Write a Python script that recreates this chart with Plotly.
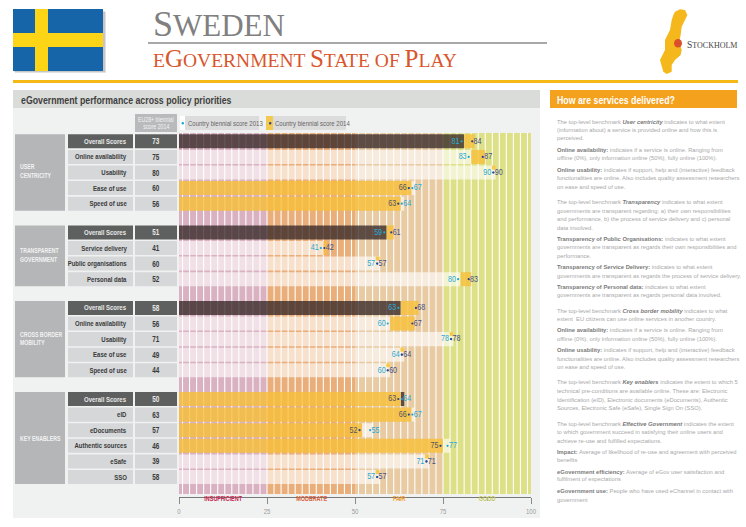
import plotly.graph_objects as go

W, H = 746, 527
NARROW = "Arial Narrow, Liberation Sans, Arial"
NOLINE = dict(width=0)

groups = [["USER", "CENTRICITY"], ["TRANSPARENT", "GOVERNMENT"], ["CROSS BORDER", "MOBILITY"], ["KEY ENABLERS"]]
group_label_px = [[166.7, 175.5], [250.5, 259.0], [334.3, 342.3], [438.3]]
group_rows = [
    ["Overall Scores", "Online availability", "Usability", "Ease of use", "Speed of use"],
    ["Overall Scores", "Service delivery", "Public organisations", "Personal data"],
    ["Overall Scores", "Online availability", "Usability", "Ease of use", "Speed of use"],
    ["Overall Scores", "eID", "eDocuments", "Authentic sources", "eSafe", "SSO"],
]
eu_scores = [[73, 75, 80, 60, 56], [51, 41, 60, 52], [58, 56, 71, 49, 44], [50, 63, 57, 46, 39, 58]]
score_2013 = [[81, 83, 90, 67, 64], [59, 41, 57, 80], [63, 60, 78, 64, 60], [64, 67, 55, 77, 71, 57]]
score_2014 = [[84, 87, 90, 66, 63], [61, 42, 57, 83], [68, 67, 78, 64, 60], [63, 66, 52, 75, 71, 57]]

band_edges = [0, 25, 50, 75, 100]
band_colors = ["#d9b1c0", "#e9ae79", "#e8caa3", "#dde086"]
band_names = ["INSUFFICIENT", "MODERATE", "FAIR", "GOOD"]
band_text = ["#c8224f", "#d9603a", "#f0a030", "#c5c95a"]
axis_ticks = [0, 25, 50, 75, 100]
minor_ticks = [12.5, 37.5, 62.5, 87.5]

side_text = [
    (121.7, "The top-level benchmark <b><i>User centricity</i></b> indicates to what extent"),
    (129.7, "(information about) a service is provided online and how this is"),
    (138.3, "perceived."),
    (149.7, "<b>Online availability:</b> indicates if a service is online. Ranging from"),
    (158.0, "offline (0%), only information online (50%), fully online (100%)."),
    (169.7, "<b>Online usability:</b> indicates if support, help and (interactive) feedback"),
    (178.0, "functionalities are online. Also includes quality assessment researchers"),
    (187.0, "on ease and speed of use."),
    (201.7, "The top-level benchmark <b><i>Transparency</i></b> indicates to what extent"),
    (210.7, "governments are transparent regarding: a) their own responsibilities"),
    (219.0, "and performance, b) the process of service delivery and c) personal"),
    (227.7, "data involved."),
    (238.7, "<b>Transparency of Public Organisations:</b> indicates to what extent"),
    (247.0, "governments are transparent as regards their own responsibilities and"),
    (256.0, "performance."),
    (266.7, "<b>Transparency of Service Delivery:</b> indicates to what extent"),
    (275.7, "governments are transparent as regards the process of service delivery."),
    (286.7, "<b>Transparency of Personal data:</b> indicates to what extent"),
    (295.0, "governments are transparent as regards personal data involved."),
    (310.7, "The top-level benchmark <b><i>Cross border mobility</i></b> indicates to what"),
    (319.0, "extent  EU citizens can use online services in another country."),
    (329.7, "<b>Online availability:</b> indicates if a service is online. Ranging from"),
    (338.7, "offline (0%), only information online (50%), fully online (100%)."),
    (349.7, "<b>Online usability:</b> indicates if support, help and (interactive) feedback"),
    (358.7, "functionalities are online. Also includes quality assessment researchers"),
    (367.0, "on ease and speed of use."),
    (382.3, "The top-level benchmark <b><i>Key enablers</i></b> indicates the extent to which 5"),
    (390.7, "technical pre-conditions are available online. These are: Electronic"),
    (399.7, "Identification (eID), Electronic documents (eDocuments), Authentic"),
    (407.7, "Sources, Electronic Safe (eSafe), Single Sign On (SSO)."),
    (423.7, "The top-level benchmark <b><i>Effective Government</i></b> indicates the extent"),
    (432.0, "to which government succeed in satisfying their online users and"),
    (440.7, "achieve re-use and fulfilled expectations."),
    (451.7, "<b>Impact:</b> Average of likelihood of re-use and agreement with perceived"),
    (460.0, "benefits"),
    (471.7, "<b>eGovernment efficiency:</b> Average of eGov user satisfaction and"),
    (479.3, "fulfilment of expectations"),
    (490.7, "<b>eGovernment use:</b> People who have used eChannel in contact with"),
    (499.7, "government"),
]

# row layout: one unit on the y axis is one row step, groups separated by a gap
ROW_PX, FIRST_PX, GAP = 15.6, 141.3, 0.84
rows = []
pos = 0.0
for g, names in enumerate(group_rows):
    for i, name in enumerate(names):
        rows.append(dict(g=g, i=i, name=name, y=pos, eu=eu_scores[g][i],
                         a=score_2013[g][i], b=score_2014[g][i]))
        pos += 1
    pos += GAP
ys = [r["y"] for r in rows]
overall = [r["i"] == 0 for r in rows]


def px(x):
    return x / W


def py(y):
    return 1 - y / H


def box(x0, y0, x1, y1, color, layer="below"):
    return dict(type="rect", xref="paper", yref="paper", x0=px(x0), x1=px(x1), y0=py(y0), y1=py(y1),
                fillcolor=color, line=NOLINE, layer=layer)


def label(x, y, text, size, color, anchor="left", font="Liberation Sans"):
    return dict(xref="paper", yref="paper", x=px(x), y=py(y), text=text, showarrow=False, xanchor=anchor,
                yanchor="middle", align=anchor,
                font=dict(size=size, color=color, family=font))


shapes, notes = [], []

# page furniture
shapes += [
    box(13, 90, 540, 518, "#f0f2f1"),
    box(13, 90, 540, 108, "#dadcd9"),
    box(550, 90, 737, 108, "#f4a11d"),
    box(13, 80, 738, 83, "#f5b915"),
    box(148, 42, 547, 44, "#a8a8aa"),
    # flag
    box(15, 12, 106, 73, "rgba(120,120,120,0.22)"),
    box(14, 11, 105, 72, "rgba(120,120,120,0.25)"),
    box(13, 9, 103, 71, "#1565a8"),
    box(35, 9, 48, 71, "#fdd516"),
    box(13, 33, 103, 47, "#fdd516"),
]

# map outline, in pixels of the page
outline = [(75, 35), (90, 28), (105, 30), (112, 45), (105, 60), (95, 80), (92, 105), (88, 125), (95, 150), (92, 165),
           (75, 180), (65, 195), (65, 215), (50, 222), (40, 215), (30, 180), (45, 150), (45, 120), (60, 90), (65, 60),
           (70, 45)]
path = "M" + " L".join(f"{px(650 + x / 3):.4f},{py(y / 3):.4f}" for x, y in outline) + " Z"
shapes.append(dict(type="path", xref="paper", yref="paper", path=path, fillcolor="#f5b81c", line=NOLINE))
shapes.append(dict(type="circle", xref="paper", yref="paper", x0=px(674), x1=px(682), y0=py(39), y1=py(47.5),
                   fillcolor="#d9502a", line=NOLINE))

# legend and header boxes
shapes += [
    box(135, 114, 177, 132, "#b8babb"),
    box(180, 116, 185, 130, "#ffffff"),
    box(185, 116, 259, 130, "#dcdcdc"),
    box(266, 116, 273, 130, "#f3c94f"),
    box(273, 116, 346, 130, "#dcdcdc"),
    dict(type="circle", xref="paper", yref="paper", x0=px(181.6), x1=px(184), y0=py(122), y1=py(124.4),
         fillcolor="#1aa7d8", line=NOLINE),
    dict(type="circle", xref="paper", yref="paper", x0=px(269), x1=px(271.4), y0=py(122), y1=py(124.4),
         fillcolor="#2a3f8f", line=NOLINE),
]

# coloured bands and their thin white separators, below the bars
for k, c in enumerate(band_colors):
    shapes.append(dict(type="rect", xref="x", yref="paper", x0=band_edges[k], x1=band_edges[k + 1],
                       y0=py(494), y1=py(133), fillcolor=c, line=NOLINE, layer="below"))
for v in range(1, 100, 2):
    shapes.append(dict(type="line", xref="x", yref="paper", x0=v, x1=v, y0=py(494), y1=py(133),
                       line=dict(color="#ffffff", width=1.1), layer="below"))

# left table
for g, lines in enumerate(groups):
    grp = [r for r in rows if r["g"] == g]
    shapes.append(dict(type="rect", xref="paper", yref="y", x0=px(15), x1=px(65), y0=grp[0]["y"] - 0.45,
                       y1=grp[-1]["y"] + 0.45, fillcolor="#b5b6b8", line=NOLINE, layer="below"))
    for line, y in zip(lines, group_label_px[g]):
        notes.append(label(18, y, f"<b>{line}</b>", 6.9, "#f2f2f2", font=NARROW))
for r, is_o in zip(rows, overall):
    fill = "#5e605f" if is_o else "#d5d7d9"
    ink = "#e8e8e8" if is_o else "#3a3a3a"
    for x0, x1 in [(68, 133), (135, 177)]:
        shapes.append(dict(type="rect", xref="paper", yref="y", x0=px(x0), x1=px(x1), y0=r["y"] - 0.45,
                           y1=r["y"] + 0.45, fillcolor=fill, line=NOLINE, layer="below"))
    notes.append(dict(xref="paper", yref="y", x=px(129), y=r["y"], text=f"<b>{r['name']}</b>", showarrow=False,
                      xanchor="right", font=dict(size=8, color=ink, family=NARROW)))
    notes.append(dict(xref="paper", yref="y", x=px(156), y=r["y"], text=f"<b>{r['eu']}</b>", showarrow=False,
                      xanchor="center", font=dict(size=8.5, color=ink, family=NARROW)))

# bars
BAR_W = 0.9
pale = "rgba(255,255,255,0.62)"
dark = "rgba(50,35,35,0.76)"
yellow = "rgba(246,192,58,0.82)"
base_color = [dark if o else pale for o in overall]

base_start = [0 if r["b"] >= r["a"] else r["b"] for r in rows]
base_len = [r["a"] - s for r, s in zip(rows, base_start)]
yel_start = [r["a"] if r["b"] >= r["a"] else 0 for r in rows]
yel_len = [r["b"] - s for r, s in zip(rows, yel_start)]

fig = go.Figure()
fig.add_bar(y=ys, x=base_len, base=base_start, orientation="h", width=BAR_W,
            marker=dict(color=base_color, line=NOLINE), hoverinfo="skip")
fig.add_bar(y=ys, x=yel_len, base=yel_start, orientation="h", width=BAR_W,
            marker=dict(color=yellow, line=NOLINE), hoverinfo="skip")
# tied rows carry a little tab at the top of the bar end
ties = [r for r in rows if r["a"] == r["b"]]
fig.add_bar(y=[r["y"] - 0.32 for r in ties], x=[1.1] * len(ties), base=[r["a"] - 1.1 for r in ties], orientation="h",
            width=0.26, marker=dict(color="#f5c94a", line=NOLINE), hoverinfo="skip")

# dots and value labels
a_left = [r["a"] <= r["b"] for r in rows]
CYAN, NAVY, GREY = "#27a9d6", "#465184", "#55555f"
fig.add_scatter(x=[r["a"] - 0.7 for r in rows], y=ys, mode="markers",
                marker=dict(color="#1aa7d8", size=2.2), hoverinfo="skip")
fig.add_scatter(x=[r["b"] - 0.7 for r in rows], y=ys, mode="markers",
                marker=dict(color="#2a3f8f", size=2.2), hoverinfo="skip")
fig.add_scatter(x=[r["a"] - 1.3 if l else r["a"] - 0.3 for r, l in zip(rows, a_left)], y=ys, mode="text",
                text=[str(r["a"]) for r in rows],
                textposition=["middle left" if l else "middle right" for l in a_left],
                textfont=dict(size=9.5, color=CYAN, family=NARROW), hoverinfo="skip")
fig.add_scatter(x=[r["b"] - 0.3 if l else r["b"] - 1.3 for r, l in zip(rows, a_left)], y=ys, mode="text",
                text=[str(r["b"]) for r in rows],
                textposition=["middle right" if l else "middle left" for l in a_left],
                textfont=dict(size=9.5, color=[NAVY if l else GREY for l in a_left], family=NARROW), hoverinfo="skip")

# text
notes += [
    label(19, 99.5, "<b>eGovernment performance across policy priorities</b>", 11.7, "#3f3f3f", font=NARROW),
    label(555, 99.5, "<b>How are services delivered?</b>", 11.7, "#ffffff", font=NARROW),
    label(156, 119.7, "EU28+ biennial", 7, "#f4f4f4", "center", NARROW),
    label(156, 127, "score 2014", 7, "#f4f4f4", "center", NARROW),
    label(186, 123, "Country biennial score 2013", 8, "#666666", font=NARROW),
    label(273, 123, "Country biennial score 2014", 8, "#666666", font=NARROW),
]
for k, name in enumerate(band_names):
    notes.append(dict(xref="x", yref="paper", x=(band_edges[k] + band_edges[k + 1]) / 2, y=py(504.5),
                      text=f"<b>{name}</b>", showarrow=False,
                      font=dict(size=7.3, color=band_text[k], family=NARROW)))
for y, t in side_text:
    t = t.replace("<b>", '<span style="color:#7a7a7a"><b>').replace("</b>", "</b></span>")
    notes.append(label(555, y, t, 5.8, "#a8a8a8"))


def caps(size, text):
    return f'<span style="font-size:{size}px">{text}</span>'


notes += [
    label(151, 24, caps(36, "S") + caps(31, "WEDEN"), 31, "#808080", font="Liberation Serif"),
    label(151, 59, caps(19.5, "E") + caps(25, "G") + caps(19.5, "OVERNMENT ") + caps(25, "S") + caps(19.5, "TATE OF ")
          + caps(25, "P") + caps(19.5, "LAY"), 19.5, "#d9552b", font="Liberation Serif"),
    label(685, 45, caps(9.5, "S") + caps(8, "TOCKHOLM"), 8, "#444444", font="Liberation Serif"),
]

fig.update_layout(
    width=W, height=H, autosize=False, margin=dict(l=0, r=0, t=0, b=0, pad=0, autoexpand=False), showlegend=False,
    paper_bgcolor="#ffffff", plot_bgcolor="rgba(0,0,0,0)", barmode="overlay",
    shapes=shapes, annotations=notes,
    xaxis=dict(domain=[px(179), px(531)], range=[0, 100], tickvals=axis_ticks, ticks="outside", ticklen=6,
               tickcolor="#8a8a8a", tickwidth=1, showline=True, linecolor="#777777", linewidth=1, showgrid=False,
               zeroline=False, anchor="free", position=py(497), tickfont=dict(size=8, color="#9a9a9a", family=NARROW),
               minor=dict(tickvals=minor_ticks, ticks="outside", ticklen=3, tickcolor="#b0b0b0")),
    yaxis=dict(domain=[py(494), py(133)], range=[(494 - FIRST_PX) / ROW_PX, (133 - FIRST_PX) / ROW_PX], visible=False),
)
# the reference uses a condensed face: squeeze those real text runs horizontally, keeping each anchor in place
squeeze = """
document.body.style.margin = '0';
var gd = document.getElementById('{plot_id}');
document.querySelectorAll('svg text').forEach(function (el) {
  if ((el.style.fontFamily || '').indexOf('Narrow') < 0) return;
  var n = el.getComputedTextLength();
  if (n <= 0) return;
  var k = 0.75, holder = el.closest('.annotation');
  if (holder) {
    var a = gd.layout.annotations[+holder.getAttribute('data-index')];
    if (a.xanchor === 'right' && a.align !== 'right') {
      el.setAttribute('x', parseFloat(el.getAttribute('x')) + n * (1 - k) / 2);
    }
  }
  el.setAttribute('lengthAdjust', 'spacingAndGlyphs');
  el.setAttribute('textLength', n * k);
});
"""
fig.write_html("out.html", post_script=squeeze, config=dict(displayModeBar=False))
